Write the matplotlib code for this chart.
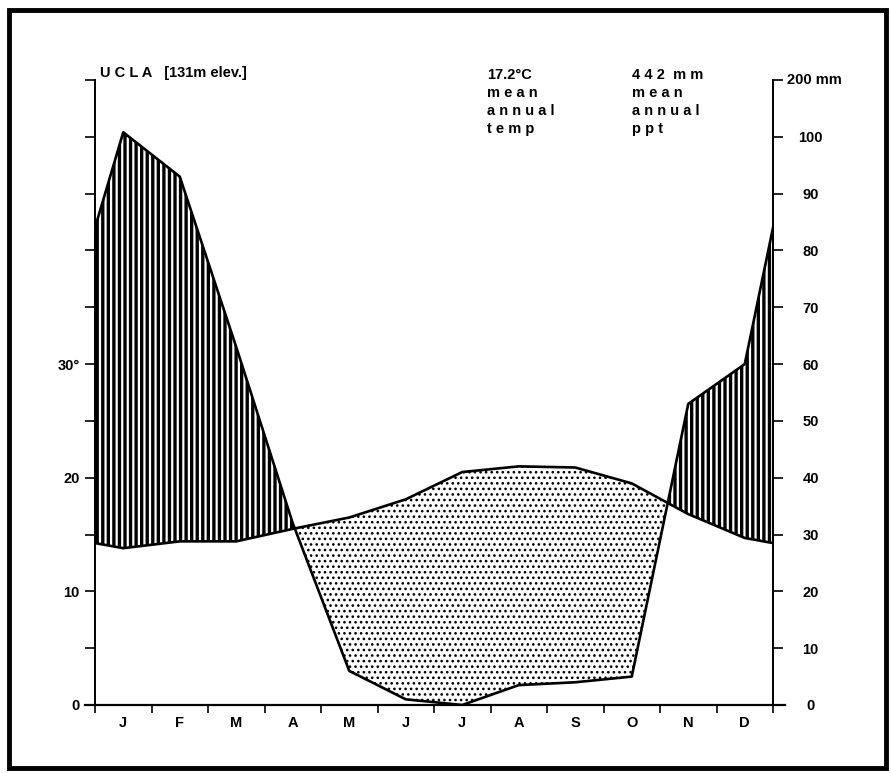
import numpy as np
import matplotlib
matplotlib.use('Agg')
import matplotlib.pyplot as plt
from matplotlib.patches import Rectangle

plt.rcParams['font.family'] = ['Liberation Sans', 'DejaVu Sans']

# monthly climate normals, UCLA
months = ['J', 'F', 'M', 'A', 'M', 'J', 'J', 'A', 'S', 'O', 'N', 'D']
temp_c = [13.8, 14.4, 14.4, 15.5, 16.5, 18.1, 20.5, 21.0, 20.9, 19.5, 16.8, 14.7]
ppt_mm = [108, 93, 63, 32, 6, 1, 0, 3.5, 4, 5, 53, 60]

station = 'U C L A   [131m elev.]'
temp_note = ['17.2\u00b0C', 'm e a n', 'a n n u a l', 't e m p']
ppt_note = ['4 4 2  m m', 'm e a n', 'a n n u a l', 'p p t']


def scale_ppt(p):
	# above 100 mm the scale is squeezed 10x
	p = np.asarray(p, dtype=float)
	return np.where(p > 100, 100 + (p - 100) / 10.0, p)


# wrap the year round so both edges get the Dec/Jan mean
x = np.concatenate([[0], np.arange(12) + 0.5, [12]])
t = np.array(temp_c)
p = np.array(ppt_mm, dtype=float)
t = np.concatenate([[(t[0] + t[-1]) / 2], t, [(t[0] + t[-1]) / 2]])
p = np.concatenate([[(p[0] + p[-1]) / 2], p, [(p[0] + p[-1]) / 2]])

t_y = 2 * t
p_y = scale_ppt(p)

# fine grid so the fills follow the straight segments
xf = np.linspace(0, 12, 2401)
tf = np.interp(xf, x, t_y)
pf = np.interp(xf, x, p_y)

W, H = 891, 773
fig = plt.figure(figsize=(W / 100, H / 100), dpi=100)
ax = fig.add_axes([95 / W, 1 - 705 / H, (773 - 95) / W, (705 - 80) / H])
ax.set_xlim(0, 12)
ax.set_ylim(0, 110)

with plt.rc_context({'hatch.linewidth': 2.4}):
	ax.fill_between(xf, tf, pf, where=pf >= tf, interpolate=True,
	                facecolor='white', edgecolor='black', hatch='|||', linewidth=0)
with plt.rc_context({'hatch.linewidth': 1.1}):
	ax.fill_between(xf, pf, tf, where=tf >= pf, interpolate=True,
	                facecolor='white', edgecolor='black', hatch='...', linewidth=0)
ax.fill_between(xf, 100, pf, where=pf > 100, interpolate=True,
                facecolor='black', linewidth=0)

ax.plot(x, t_y, color='black', lw=1.9, zorder=4)
ax.plot(x, p_y, color='black', lw=1.9, zorder=4)

for s in ['top', 'bottom']:
	ax.spines[s].set_visible(False)
ax.spines['left'].set_linewidth(1.4)
ax.spines['right'].set_linewidth(1.4)

# x axis line runs a little past both vertical axes
ax.plot([-0.18, 12.22], [0, 0], color='black', lw=1.6, clip_on=False, zorder=5)
ax.set_xticks(np.arange(13))
ax.set_xticklabels([])
ax.set_xticks(np.arange(12) + 0.5, minor=True)
ax.set_xticklabels(months, minor=True, fontsize=10.5, fontweight='bold')
ax.tick_params(axis='x', which='major', direction='out', length=6, width=1.2)
ax.tick_params(axis='x', which='minor', length=0, pad=8)

left_ticks = list(range(0, 101, 10)) + [110]
left_labels = {0: '0', 20: '10', 40: '20', 60: '30\u00b0'}
ax.set_yticks(left_ticks)
ax.set_yticklabels([left_labels.get(v, '') for v in left_ticks],
                   fontsize=10.5, fontweight='bold')
ax.tick_params(axis='y', direction='out', length=7, width=1.2, pad=4)

ax2 = ax.twinx()
ax2.set_ylim(0, 110)
ax2.set_yticks(left_ticks)
ax2.set_yticklabels([str(v) for v in range(0, 101, 10)] + [''],
                    fontsize=10.5, fontweight='bold', ha='center')
ax2.tick_params(axis='y', direction='out', length=7, width=1.2, pad=20)
for s in ['top', 'bottom', 'left']:
	ax2.spines[s].set_visible(False)
ax2.spines['right'].set_linewidth(1.4)
ax2.text(1.02, 110, '200 mm', transform=ax2.get_yaxis_transform(),
         ha='left', va='center', fontsize=10.5, fontweight='bold')

fig.text(100 / W, 1 - 73 / H, station, ha='left', va='center',
         fontsize=10.5, fontweight='bold')
for i, s in enumerate(temp_note):
	fig.text(487 / W, 1 - (75 + 18 * i) / H, s, ha='left', va='center',
	         fontsize=10.5, fontweight='bold')
for i, s in enumerate(ppt_note):
	fig.text(632 / W, 1 - (75 + 18 * i) / H, s, ha='left', va='center',
	         fontsize=10.5, fontweight='bold')

fig.patches.append(Rectangle((9 / W, 1 - 768 / H), 877 / W, 758 / H,
                             transform=fig.transFigure, fill=False,
                             edgecolor='black', lw=3.5))

fig.savefig('out.png', dpi=100)
